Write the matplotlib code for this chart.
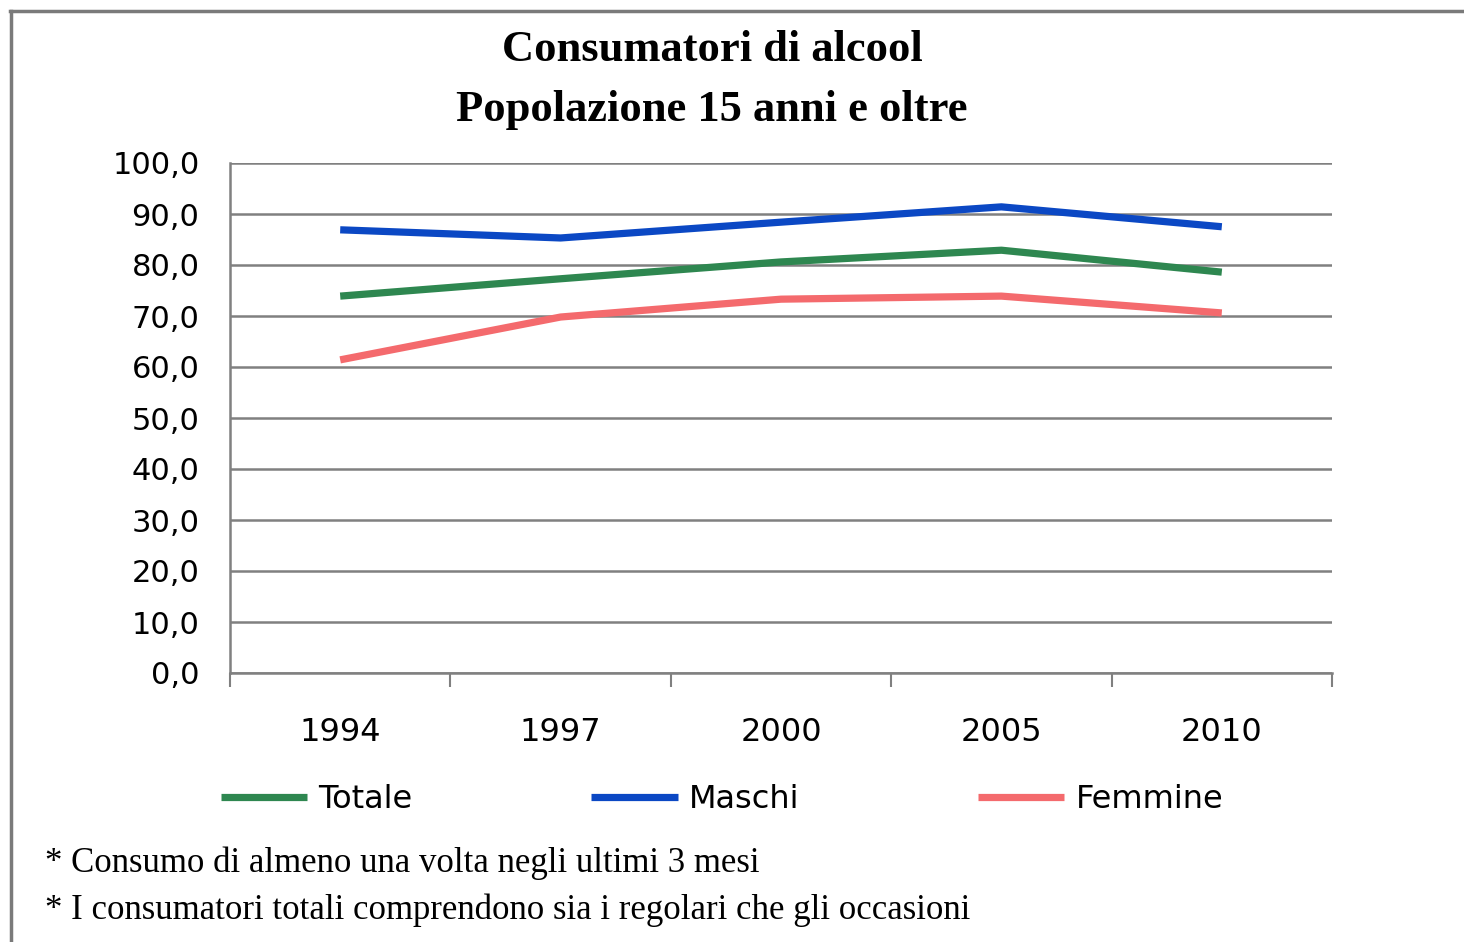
import numpy as np
import matplotlib
matplotlib.use("Agg")
import matplotlib.pyplot as plt
from matplotlib.lines import Line2D
from matplotlib.ticker import FuncFormatter

anni = ['1994', '1997', '2000', '2005', '2010']
totale = [73.9, 77.3, 80.6, 82.9, 78.6]
maschi = [86.9, 85.3, 88.4, 91.4, 87.5]
femmine = [61.4, 69.8, 73.3, 73.9, 70.6]

serie = [('Totale', totale, '#2e8750'), ('Maschi', maschi, '#0b48c4'), ('Femmine', femmine, '#f46a6d')]

W, H = 1464, 942
fig = plt.figure(figsize=(W / 100, H / 100), dpi=100)
ax = fig.add_axes([230 / W, 1 - 673 / H, 1102 / W, 510 / H])

x = np.arange(len(anni))
for nome, val, col in serie:
    ax.plot(x, val, color=col, lw=5.2, label=nome, solid_capstyle='butt', zorder=3)

ax.set_xlim(-0.5, len(anni) - 0.5)
ax.set_ylim(0, 100)
ax.set_yticks(np.arange(0, 101, 10))
ax.yaxis.set_major_formatter(FuncFormatter(lambda v, p: f'{v:.1f}'.replace('.', ',')))
ax.yaxis.grid(True, color='#808080', lw=1.8)
ax.set_axisbelow(True)
ax.tick_params(axis='y', length=0, pad=22, labelsize=22)

ax.set_xticks(np.arange(-0.5, len(anni)), minor=False)
ax.set_xticklabels([])
ax.set_xticks(x, minor=True)
ax.set_xticklabels(anni, minor=True)
ax.tick_params(axis='x', which='major', direction='out', length=10, width=1.5, color='#808080')
ax.tick_params(axis='x', which='minor', length=0, pad=32, labelsize=23)

for s in ['top', 'right']:
    ax.spines[s].set_visible(False)
for s in ['left', 'bottom']:
    ax.spines[s].set_color('#808080')
    ax.spines[s].set_linewidth(1.8)

fig.text(712 / W, 1 - 50 / H, 'Consumatori di alcool', ha='center', va='center',
         family='Liberation Serif', fontweight='bold', fontsize=32)
fig.text(712 / W, 1 - 110 / H, 'Popolazione 15 anni e oltre', ha='center', va='center',
         family='Liberation Serif', fontweight='bold', fontsize=32)

fig.legend(loc='center', bbox_to_anchor=(722 / W, 1 - 800 / H), ncol=3, frameon=False,
           fontsize=23, handlelength=2.7, handletextpad=0.35, columnspacing=5.6)

fig.text(45 / W, 1 - 863 / H, '* Consumo di almeno una volta negli ultimi 3 mesi',
         ha='left', va='center', family='Liberation Serif', fontsize=25)
fig.text(45 / W, 1 - 910 / H, '* I consumatori totali comprendono sia i regolari che gli occasioni',
         ha='left', va='center', family='Liberation Serif', fontsize=25)

fig.add_artist(Line2D([10 / W, 1], [1 - 11 / H, 1 - 11 / H], transform=fig.transFigure,
                      color='#7a7a7a', lw=2.5))
fig.add_artist(Line2D([11 / W, 11 / W], [0, 1 - 11 / H], transform=fig.transFigure,
                      color='#7a7a7a', lw=2.5))

fig.savefig('out.png', dpi=100)
